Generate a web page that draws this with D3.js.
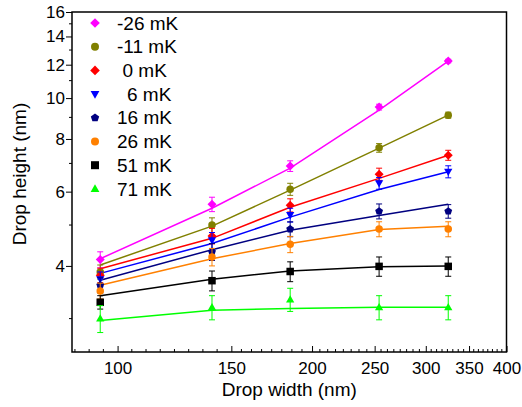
<!DOCTYPE html>
<html>
<head>
<meta charset="utf-8">
<script src="https://cdn.jsdelivr.net/npm/d3@7"></script>
<style>
  html, body { margin: 0; padding: 0; background: #fff; }
  svg { display: block; font-family: "Liberation Sans", Arial, sans-serif; }
</style>
</head>
<body>
<svg id="chart" width="522" height="407"></svg>
<script>
// ---------------- DATA ----------------
const dropWidths = [94, 140, 185, 254, 325];
const seriesLabels = ["-26 mK", "-11 mK", "0 mK", "6 mK", "16 mK", "26 mK", "51 mK", "71 mK"];

const heightM26 = [4.14, 5.60, 6.90, 9.52, 12.24];
const heightM11 = [3.87, 5.00, 6.08, 7.62, 9.11];
const height0   = [3.80, 4.71, 5.57, 6.60, 7.32];
const height6   = [3.72, 4.60, 5.28, 6.28, 6.69];
const height16  = [3.60, 4.32, 4.89, 5.39, 5.39];
const height26  = [3.49, 4.20, 4.50, 4.89, 4.89];
const height51  = [3.28, 3.69, 3.88, 3.99, 3.99];
const height71  = [3.00, 3.19, 3.33, 3.19, 3.19];

const errM26 = [0.18, 0.22, 0.20, 0.15, 0.12];
const errM11 = [0.15, 0.20, 0.20, 0.18, 0.15];
const err0   = [0.15, 0.20, 0.20, 0.22, 0.20];
const err6   = [0.15, 0.20, 0.20, 0.20, 0.22];
const err16  = [0.15, 0.20, 0.20, 0.22, 0.20];
const err26  = [0.15, 0.20, 0.20, 0.20, 0.20];
const err51  = [0.12, 0.20, 0.21, 0.21, 0.21];
const err71  = [0.22, 0.21, 0.21, 0.21, 0.21];

const fitM26 = [4.16, 5.48, 6.82, 9.37, 12.24];
const fitM11 = [4.02, 4.97, 6.05, 7.61, 9.11];
const fit0   = [3.94, 4.65, 5.51, 6.45, 7.32];
const fit6   = [3.84, 4.52, 5.22, 6.07, 6.69];
const fit16  = [3.70, 4.37, 4.86, 5.27, 5.60];
const fit26  = [3.60, 4.16, 4.52, 4.88, 4.97];
const fit51  = [3.40, 3.72, 3.89, 3.98, 4.00];
const fit71  = [2.97, 3.14, 3.17, 3.19, 3.19];

const xTickValues = [100, 150, 200, 250, 300, 350, 400];
const yTickValues = [4, 6, 8, 10, 12, 14, 16];
const yMinorTickValues = [3, 5, 7, 9, 11, 13, 15];
const xAxisTitle = "Drop width (nm)";
const yAxisTitle = "Drop height (nm)";

// ---------------- STYLE ----------------
const colors = ["#ff00ff", "#808000", "#ff0000", "#0000ff", "#000080", "#ff8000", "#000000", "#00ff00"];
const shapes = ["diamond", "circle", "diamond", "triDown", "pentagon", "circle", "square", "triUp"];
const legendTextOffsets = [0, 0, 5.5, 10, 0, 0, 0, 0];

const series = seriesLabels.map((label, i) => ({
  label,
  heights: [heightM26, heightM11, height0, height6, height16, height26, height51, height71][i],
  errs: [errM26, errM11, err0, err6, err16, err26, err51, err71][i],
  fit: [fitM26, fitM11, fit0, fit6, fit16, fit26, fit51, fit71][i],
  color: colors[i],
  shape: shapes[i]
}));

const svg = d3.select("#chart");
const mLeft = 72, mRight = 506.5, mTop = 12, mBottom = 352;

const x = d3.scaleLog().domain([85, 400]).range([mLeft, mRight]);
const y = d3.scaleLog().domain([2.5, 16]).range([mBottom, mTop]);

function shapePath(shape, s) {
  const r = s / 2;
  switch (shape) {
    case "diamond": return `M0,${-r*1.2}L${r*1.2},0L0,${r*1.2}L${-r*1.2},0Z`;
    case "circle": return d3.symbol(d3.symbolCircle, Math.PI * r * r)();
    case "square": return `M${-r},${-r}H${r}V${r}H${-r}Z`;
    case "triUp": return `M0,${-r*1.15}L${r*1.1},${r*0.8}L${-r*1.1},${r*0.8}Z`;
    case "triDown": return `M0,${r*1.15}L${r*1.1},${-r*0.8}L${-r*1.1},${-r*0.8}Z`;
    case "pentagon": {
      const pts = d3.range(5).map(k => {
        const a = -Math.PI / 2 + k * 2 * Math.PI / 5;
        return [Math.cos(a) * r * 1.1, Math.sin(a) * r * 1.1];
      });
      return "M" + pts.map(p => p.join(",")).join("L") + "Z";
    }
  }
}

// ---------------- AXES ----------------
const xAxis = svg.append("g").attr("transform", `translate(0,${mBottom})`)
  .call(d3.axisBottom(x).tickValues(xTickValues).tickFormat(d3.format("d")).tickSizeInner(-6).tickSizeOuter(0));
xAxis.select(".domain").remove();
xAxis.selectAll(".tick line").attr("stroke", "#000").attr("stroke-width", 1);
xAxis.selectAll(".tick text").attr("y", 10).attr("dy", "0.71em")
  .attr("font-size", 17).attr("font-family", "Liberation Sans, Arial, sans-serif").attr("fill", "#000");

const majorPx = xTickValues.map(v => x(v));
const minorPx = [];
for (let i = 0; i < majorPx.length - 1; i++) {
  const step = (majorPx[i+1] - majorPx[i]) / 8;
  for (let k = 1; k < 8; k++) minorPx.push(majorPx[i] + k * step);
}
{
  const step0 = (majorPx[1] - majorPx[0]) / 8;
  for (let p = majorPx[0] - step0; p > mLeft + 1; p -= step0) minorPx.push(p);
}
svg.append("g").selectAll("line").data(minorPx).join("line")
  .attr("x1", d => d).attr("x2", d => d)
  .attr("y1", mBottom).attr("y2", mBottom - 3)
  .attr("stroke", "#000").attr("stroke-width", 1);

const yAxis = svg.append("g").attr("transform", `translate(${mLeft},0)`)
  .call(d3.axisLeft(y).tickValues(yTickValues).tickFormat(d3.format("d")).tickSizeInner(6).tickSizeOuter(0));
yAxis.select(".domain").remove();
yAxis.selectAll(".tick line").attr("stroke", "#000").attr("stroke-width", 1);
yAxis.selectAll(".tick text").attr("x", -7)
  .attr("font-size", 17).attr("font-family", "Liberation Sans, Arial, sans-serif").attr("fill", "#000");
svg.append("g").selectAll("line").data(yMinorTickValues).join("line")
  .attr("x1", mLeft - 3).attr("x2", mLeft)
  .attr("y1", d => y(d)).attr("y2", d => y(d))
  .attr("stroke", "#000").attr("stroke-width", 1);

svg.append("rect").attr("x", mLeft).attr("y", mTop)
  .attr("width", mRight - mLeft).attr("height", mBottom - mTop)
  .attr("fill", "none").attr("stroke", "#000").attr("stroke-width", 1.5);

svg.append("text").attr("x", (mLeft + mRight) / 2).attr("y", 396)
  .attr("text-anchor", "middle").attr("font-size", 19).text(xAxisTitle);
svg.append("text").attr("transform", `translate(26,174) rotate(-90)`)
  .attr("text-anchor", "middle").attr("font-size", 19).text(yAxisTitle);

// ---------------- SERIES ----------------
const plot = svg.append("g");
const line = d3.line().x(d => x(d[0])).y(d => y(d[1]));

series.forEach(s => {
  plot.append("path")
    .datum(dropWidths.map((w, i) => [w, s.fit[i]]))
    .attr("d", line).attr("fill", "none")
    .attr("stroke", s.color).attr("stroke-width", 1.5);
});

series.forEach(s => {
  const g = plot.append("g");
  const pts = dropWidths.map((w, i) => ({ w, h: s.heights[i], e: s.errs[i] }));
  g.selectAll("path.eb").data(pts).join("path").attr("class", "eb")
    .attr("d", d => {
      const cx = x(d.w), y1 = y(d.h + d.e), y2 = y(d.h - d.e);
      return `M${cx},${y1}V${y2}M${cx - 3},${y1}H${cx + 3}M${cx - 3},${y2}H${cx + 3}`;
    })
    .attr("fill", "none").attr("stroke", s.color).attr("stroke-width", 1);
  g.selectAll("path.mk").data(pts).join("path").attr("class", "mk")
    .attr("transform", d => `translate(${x(d.w)},${y(d.h)})`)
    .attr("d", shapePath(s.shape, 7.5))
    .attr("fill", s.color);
});

// ---------------- LEGEND ----------------
const legend = svg.append("g");
series.forEach((s, i) => {
  const ly = 23 + i * 23.7;
  legend.append("path").attr("transform", `translate(95,${ly})`)
    .attr("d", shapePath(s.shape, 8)).attr("fill", s.color);
  legend.append("text").attr("x", 117 + legendTextOffsets[i]).attr("y", ly).attr("dy", "0.35em")
    .attr("text-anchor", "start").attr("font-size", 19).text(s.label);
});
</script>
</body>
</html>
